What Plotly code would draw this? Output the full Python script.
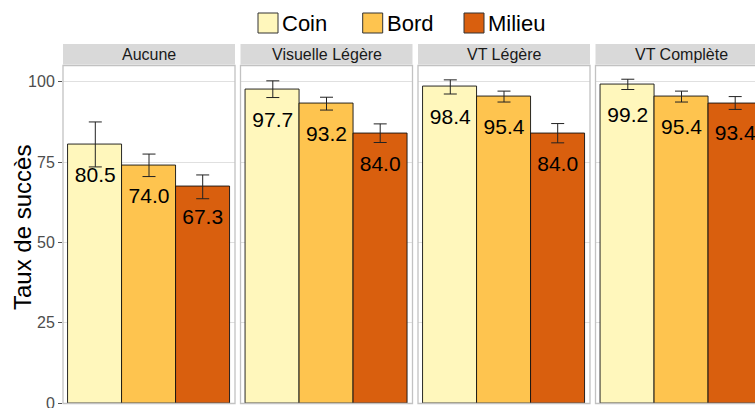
import plotly.graph_objects as go

# ---- data ----
conditions = ["Aucune", "Visuelle Légère", "VT Légère", "VT Complète"]
positions = ["Coin", "Bord", "Milieu"]
coin = [80.5, 97.7, 98.4, 99.2]
bord = [74.0, 93.2, 95.4, 95.4]
milieu = [67.3, 84.0, 84.0, 93.4]
err_coin = [7.0, 2.6, 2.2, 1.6]
err_bord = [3.5, 2.0, 1.7, 1.7]
err_milieu = [3.7, 2.9, 3.0, 2.0]
y_ticks = [0, 25, 50, 75, 100]
y_title = "Taux de succès"

# ---- style ----
W, H = 755, 408
colors = ["#fff7bc", "#fec44f", "#d95f0e"]
FONT = "Liberation Sans, Arial, Helvetica, sans-serif"
panel_left = [63, 240.5, 418, 595.5]
panel_w = 172
panel_top, panel_bot = 65.5, 403
strip_top, strip_bot = 44, 64.5
pad = 0.1015
full_units = 3 + 2 * pad
label_offset = 10

series = [coin, bord, milieu]
errs = [err_coin, err_bord, err_milieu]

def px(x):
    return x / W

def py(y):
    return 1 - y / H

fig = go.Figure()
shapes = []
annotations = []

for i, cond in enumerate(conditions):
    xa = "x" if i == 0 else f"x{i+1}"
    vals = [s[i] for s in series]
    ers = [e[i] for e in errs]
    fig.add_trace(go.Bar(
        x=positions, y=vals, xaxis=xa, yaxis="y",
        width=1.0,
        marker=dict(color=colors, line=dict(color="#111111", width=0.9)),
        error_y=dict(type="data", array=ers, color="#222222", thickness=1, width=6.5),
        showlegend=False, hoverinfo="skip",
    ))
    fig.add_trace(go.Scatter(
        x=positions, y=[v - label_offset for v in vals], xaxis=xa, yaxis="y",
        mode="text", text=[f"{v:.1f}" for v in vals],
        textfont=dict(size=21, color="#000000", family=FONT),
        showlegend=False, hoverinfo="skip", cliponaxis=False,
    ))
    left = panel_left[i]
    right = min(left + panel_w, W)
    visible = right - left
    rng_end = -0.5 - pad + full_units * (visible / panel_w)
    key = "xaxis" if i == 0 else f"xaxis{i+1}"
    fig.layout[key] = dict(
        domain=[px(left), px(right)], anchor="y",
        range=[-0.5 - pad, rng_end],
        type="category", categoryorder="array", categoryarray=positions,
        showticklabels=False, showgrid=False, zeroline=False, showline=False,
        ticks="",
    )
    # strip
    shapes.append(dict(type="rect", xref="paper", yref="paper",
                       x0=px(left), x1=px(left + panel_w), y0=py(strip_bot), y1=py(strip_top),
                       fillcolor="#d9d9d9", line=dict(width=0), layer="below"))
    annotations.append(dict(xref="paper", yref="paper",
                            x=px(left + panel_w / 2), y=py((strip_top + strip_bot) / 2),
                            text=cond, showarrow=False, xanchor="center", yanchor="middle",
                            font=dict(size=16, color="#1a1a1a", family=FONT)))
    # panel border
    shapes.append(dict(type="rect", xref="paper", yref="paper",
                       x0=px(left), x1=px(left + panel_w), y0=py(panel_bot + 0.5), y1=py(panel_top),
                       fillcolor="rgba(0,0,0,0)", line=dict(color="#c2c2c2", width=1.3), layer="above"))

fig.layout.yaxis = dict(
    domain=[py(panel_bot), py(panel_top)], anchor="x",
    range=[0, (panel_bot - panel_top) / 3.212],
    tickvals=y_ticks, ticktext=[str(t) for t in y_ticks],
    ticks="outside", ticklen=4, tickcolor="#555555", tickwidth=1,
    tickfont=dict(size=16, color="#4d4d4d", family=FONT),
    ticklabeloverflow="allow",
    showgrid=True, gridcolor="#e0e0e0", gridwidth=1,
    zeroline=False, showline=False, automargin=False,
)

# y title
annotations.append(dict(xref="paper", yref="paper", x=px(22), y=py(228),
                        text=y_title, textangle=-90, showarrow=False,
                        xanchor="center", yanchor="middle",
                        font=dict(size=24, color="#000000", family=FONT)))

# legend (manual)
leg_x = [258, 362.7, 464]
for name, col, lx in zip(positions, colors, leg_x):
    shapes.append(dict(type="rect", xref="paper", yref="paper",
                       x0=px(lx), x1=px(lx + 20), y0=py(33), y1=py(13),
                       fillcolor=col, line=dict(color="#333333", width=1)))
    annotations.append(dict(xref="paper", yref="paper", x=px(lx + 22), y=py(23),
                            text=name, showarrow=False, xanchor="left", yanchor="middle",
                            font=dict(size=22, color="#000000", family=FONT)))

fig.update_layout(
    width=W, height=H,
    margin=dict(l=0, r=0, t=0, b=0),
    paper_bgcolor="white", plot_bgcolor="white",
    shapes=shapes, annotations=annotations,
    bargap=0, barmode="group",
    font=dict(family=FONT),
)

fig.write_html("out.html", config={"displayModeBar": False},
               post_script="document.body.style.margin='0';document.body.style.overflow='hidden';")
